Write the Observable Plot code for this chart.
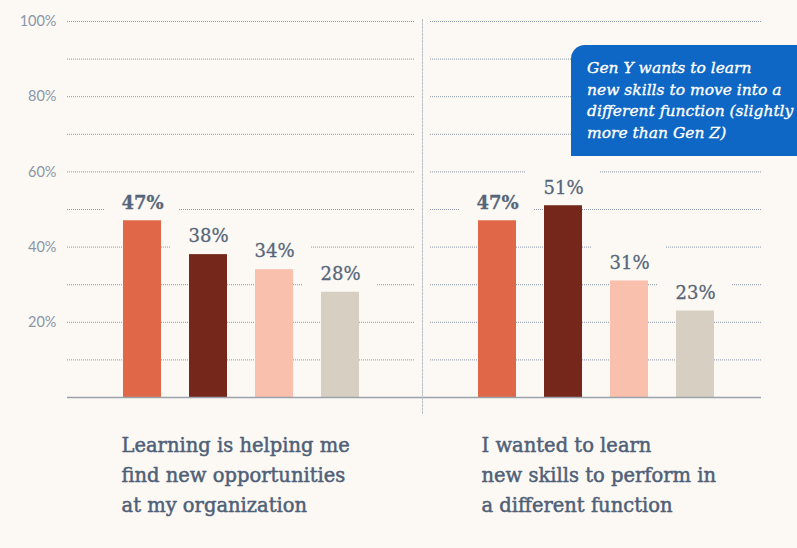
<!DOCTYPE html>
<html><head><meta charset="utf-8">
<script src="https://cdn.jsdelivr.net/npm/d3@7"></script>
<script src="https://cdn.jsdelivr.net/npm/@observablehq/plot@0.6"></script>
<style>
html,body{margin:0;padding:0;background:#fcf9f5;}
#wrap{position:relative;width:797px;height:548px;overflow:hidden;background:#fcf9f5;}
#wrap svg{display:block;}
.callout{position:absolute;left:571px;top:45px;width:238px;height:111px;background:#0e67c4;border-radius:14px 12px 12px 0;box-sizing:border-box;padding:13px 0 0 16px;color:#fff;font-family:"DejaVu Serif";font-style:italic;font-size:15.5px;line-height:21.5px;white-space:nowrap;-webkit-text-stroke:0.35px #fff;}
g[aria-label="y-axis tick label"] text{font-family:Lato,"Open Sans",sans-serif;}
</style></head><body>
<div id="wrap"></div>
<script>
// ---- data ----
const groups = [
  "Learning is helping me\nfind new opportunities\nat my organization",
  "I wanted to learn\nnew skills to perform in\na different function"
];
const series = ["Gen Z", "Gen Y", "Gen X", "Boomers"];
const valuesOpportunities = [47, 38, 34, 28];
const valuesNewFunction = [47, 51, 31, 23];
const yTicks = [20, 40, 60, 80, 100];
const gridTicks = [10, 20, 30, 40, 50, 60, 70, 80, 90, 100];
const seriesColors = ["#e06747", "#74271a", "#f9c1ad", "#d7cfc2"];
const calloutLines = ["Gen Y wants to learn", "new skills to move into a", "different function (slightly", "more than Gen Z)"];

// ---- build table ----
const groupValues = [valuesOpportunities, valuesNewFunction];
const data = [];
groups.forEach((g, gi) => series.forEach((s, si) => data.push({group: g, series: s, value: groupValues[gi][si]})));
const gridA = gridTicks.map(v => ({group: groups[0], v}));
const gridB = gridTicks.map(v => ({group: groups[1], v}));
const labelA = [{group: groups[0]}];
const labelB = [{group: groups[1]}];

const bg = "#fcf9f5";
const gridColor = "#8c98a9";
const textColor = "#566679";
const catColor = "#4f6077";
const slab = "'DejaVu Serif', serif";

const chart = Plot.plot({
  width: 797, height: 548,
  marginTop: 21, marginBottom: 151, marginLeft: 66, marginRight: 35,
  style: {background: bg, fontFamily: "Lato, sans-serif", fontSize: "14.5px", color: "#8a96a7"},
  fx: {domain: groups, paddingInner: 0.0449, paddingOuter: 0, axis: null, label: null},
  x: {domain: series, paddingInner: 0.43, paddingOuter: 0.765, align: 0.54, axis: null, label: null},
  y: {domain: [0, 100], ticks: yTicks, tickFormat: d => d + "%", tickSize: 0, tickPadding: 11, label: null},
  color: {domain: series, range: seriesColors},
  marks: [
    Plot.ruleY(gridA, {fx: "group", y: "v", stroke: gridColor, strokeWidth: 1, strokeDasharray: "1 1", insetRight: -9}),
    Plot.ruleY(gridB, {fx: "group", y: "v", stroke: gridColor, strokeWidth: 1, strokeDasharray: "1 1", insetLeft: 8}),
    Plot.barY(data, {fx: "group", x: "series", y1: "value", y2: d => d.value + 10, fill: bg, insetLeft: -18, insetRight: -18}),
    Plot.barY(data, {fx: "group", x: "series", y: "value", fill: "series"}),
    Plot.ruleY(labelA, {fx: "group", y: () => 0, stroke: "#9ba2ac", strokeWidth: 1.6, insetRight: -16}),
    Plot.ruleY(labelB, {fx: "group", y: () => 0, stroke: "#9ba2ac", strokeWidth: 1.6}),
    Plot.frame({anchor: "left", fx: () => groups[1], stroke: "#b9bec6", strokeDasharray: "2 1.5", insetTop: -2, insetBottom: -17}),
    Plot.text(data.filter(d => d.series === series[0]), {fx: "group", x: "series", y: "value", text: d => d.value + "%", dy: -18, fill: textColor, stroke: textColor, strokeWidth: 0.3, fontSize: 18, fontWeight: "bold", fontFamily: slab}),
    Plot.text(data.filter(d => d.series !== series[0]), {fx: "group", x: "series", y: "value", text: d => d.value + "%", dy: -18, fill: textColor, stroke: textColor, strokeWidth: 0.3, fontSize: 18, fontFamily: slab}),
    Plot.text(labelA, {fx: "group", text: "group", frameAnchor: "bottom-left", textAnchor: "start", lineAnchor: "top", dx: 54, dy: 33, fontSize: 19.5, lineHeight: 1.54, fill: catColor, stroke: catColor, strokeWidth: 0.5, fontFamily: slab}),
    Plot.text(labelB, {fx: "group", text: "group", frameAnchor: "bottom-left", textAnchor: "start", lineAnchor: "top", dx: 59, dy: 33, fontSize: 19.5, lineHeight: 1.54, fill: catColor, stroke: catColor, strokeWidth: 0.5, fontFamily: slab})
  ]
});

const wrap = document.getElementById("wrap");
wrap.appendChild(chart);
const callout = document.createElement("div");
callout.className = "callout";
callout.innerHTML = calloutLines.join("<br>");
wrap.appendChild(callout);
</script>
</body></html>
